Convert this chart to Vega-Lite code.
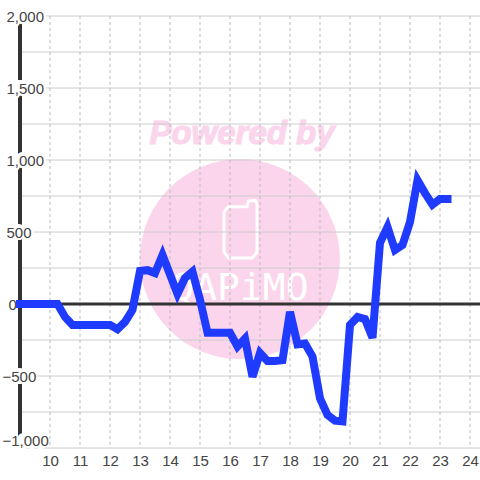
{"$schema":"https://vega.github.io/schema/vega-lite/v6.json","width":460,"height":432,"autosize":{"type":"none"},"padding":{"left":20,"top":16,"right":0,"bottom":32},"background":"#ffffff","config":{"view":{"stroke":null}},
"datasets":{
"line":[{"h":9,"v":0},{"h":10.25,"v":0},{"h":10.5,"v":-90},{"h":10.75,"v":-145},{"h":11,"v":-145},{"h":11.5,"v":-145},{"h":12,"v":-145},{"h":12.25,"v":-175},{"h":12.5,"v":-125},{"h":12.75,"v":-40},{"h":13,"v":230},{"h":13.25,"v":235},{"h":13.5,"v":215},{"h":13.75,"v":340},{"h":14,"v":205},{"h":14.25,"v":70},{"h":14.5,"v":180},{"h":14.75,"v":225},{"h":15,"v":30},{"h":15.25,"v":-200},{"h":15.5,"v":-200},{"h":15.75,"v":-200},{"h":16,"v":-200},{"h":16.25,"v":-295},{"h":16.5,"v":-240},{"h":16.75,"v":-505},{"h":17,"v":-340},{"h":17.25,"v":-395},{"h":17.5,"v":-395},{"h":17.75,"v":-390},{"h":18,"v":-55},{"h":18.25,"v":-280},{"h":18.5,"v":-275},{"h":18.75,"v":-365},{"h":19,"v":-655},{"h":19.25,"v":-770},{"h":19.5,"v":-810},{"h":19.75,"v":-815},{"h":20,"v":-145},{"h":20.25,"v":-90},{"h":20.5,"v":-105},{"h":20.75,"v":-235},{"h":21,"v":425},{"h":21.25,"v":535},{"h":21.5,"v":375},{"h":21.75,"v":410},{"h":22,"v":570},{"h":22.25,"v":860},{"h":22.5,"v":770},{"h":22.75,"v":690},{"h":23,"v":730},{"h":23.25,"v":730}],
"xgrid":[{"h":10},{"h":11},{"h":12},{"h":13},{"h":14},{"h":15},{"h":16},{"h":17},{"h":18},{"h":19},{"h":20},{"h":21},{"h":22},{"h":23},{"h":24}],
"ygrid":[{"v":2000},{"v":1750},{"v":1500},{"v":1250},{"v":1000},{"v":750},{"v":500},{"v":250},{"v":-250},{"v":-500},{"v":-750},{"v":-1000}],
"ylabels":[{"v":2000,"t":"2,000"},{"v":1500,"t":"1,500"},{"v":1000,"t":"1,000"},{"v":500,"t":"500"}],
"logo":[{"i":1,"h":15.8,"v":640},{"i":2,"h":15.95,"v":675},{"i":3,"h":16.57,"v":675},{"i":4,"h":16.62,"v":715},{"i":5,"h":16.85,"v":718},{"i":6,"h":16.9,"v":690},{"i":7,"h":16.9,"v":360},{"i":8,"h":16.75,"v":320},{"i":9,"h":15.95,"v":320},{"i":10,"h":15.8,"v":360},{"i":11,"h":15.8,"v":640}]
},
"encoding":{
"x":{"field":"h","type":"quantitative","scale":{"domain":[9,24.3333],"nice":false,"zero":false},"axis":{"values":[10,11,12,13,14,15,16,17,18,19,20,21,22,23,24],"title":null,"domain":false,"ticks":false,"grid":false,"labelFontSize":15,"labelFont":"Liberation Sans","labelColor":"#444444","labelPadding":5,"labelFlush":false,"labelOverlap":false,"zindex":1}},
"y":{"field":"v","type":"quantitative","scale":{"domain":[-1000,2000],"nice":false,"zero":false},"axis":{"values":[2000,1500,1000,500,0,-500,-1000],"format":",d","title":null,"domain":false,"ticks":false,"grid":false,"labelFontSize":15,"labelFont":"Liberation Sans","labelColor":"#444444","labelAlign":"left","labelBaseline":{"condition":{"test":"datum.value==-1000","value":"bottom"},"value":"middle"},"labelPadding":{"condition":[{"test":"datum.value<0","value":18},{"test":"datum.value==0","value":12}],"value":14},"labelFlush":false,"labelOverlap":false,"zindex":1}}
},
"layer":[
{"data":{"values":[{"h":16.33,"v":312}]},"mark":{"type":"point","filled":true,"shape":"circle","size":40000,"color":"#fbd5ec","opacity":1}},
{"data":{"values":[{"h":16.4,"v":1180,"t":"Powered by"}]},"mark":{"type":"text","text":{"expr":"datum.t"},"font":"Liberation Sans","fontSize":33,"fontWeight":"bold","fontStyle":"italic","color":"#fbd5ec","stroke":"#fbd5ec","strokeWidth":1.2,"align":"center","baseline":"middle"}},
{"data":{"name":"logo"},"mark":{"type":"line","stroke":"#ffffff","strokeWidth":3,"strokeJoin":"round"},"encoding":{"order":{"field":"i","type":"ordinal"}}},
{"data":{"values":[{"h":16.33,"v":104,"t":"QAPiMO"}]},"mark":{"type":"text","text":{"expr":"datum.t"},"font":"DejaVu Sans Mono","fontSize":38,"color":"#ffffff","align":"center","baseline":"middle"}},
{"data":{"name":"ygrid"},"mark":{"type":"rule","stroke":"#cccccc","strokeWidth":1},"encoding":{"x":{"value":0},"x2":{"value":460}}},
{"data":{"name":"xgrid"},"mark":{"type":"rule","stroke":"#bbbbbb","strokeWidth":1,"strokeDash":[3,3]},"encoding":{"y":{"value":0},"y2":{"value":432}}},
{"data":{"values":[{"v":0}]},"mark":{"type":"rule","stroke":"#333333","strokeWidth":3},"encoding":{"x":{"value":0},"x2":{"value":460}}},
{"data":{"values":[{"h":9}]},"mark":{"type":"rule","stroke":"#333333","strokeWidth":4},"encoding":{"y":{"value":0},"y2":{"value":432}}},
{"data":{"name":"ylabels"},"mark":{"type":"text","text":{"expr":"datum.t"},"font":"Liberation Sans","fontSize":15,"align":"left","baseline":"middle","dx":-14,"stroke":"#ffffff","strokeWidth":6,"color":"#ffffff"},"encoding":{"x":{"value":0}}},
{"data":{"values":[{"v":-500,"t":"-500"}]},"mark":{"type":"text","text":{"expr":"datum.t"},"font":"Liberation Sans","fontSize":15,"align":"left","baseline":"middle","dx":-18,"stroke":"#ffffff","strokeWidth":6,"color":"#ffffff"},"encoding":{"x":{"value":0}}},
{"data":{"values":[{"v":-1000,"t":"-1,000"}]},"mark":{"type":"text","text":{"expr":"datum.t"},"font":"Liberation Sans","fontSize":15,"align":"left","baseline":"middle","dx":-18,"dy":-7,"stroke":"#ffffff","strokeWidth":6,"color":"#ffffff"},"encoding":{"x":{"value":0}}},
{"data":{"name":"line"},"mark":{"type":"line","stroke":"#1f3bff","strokeWidth":8,"strokeCap":"square","strokeJoin":"miter","interpolate":"linear","clip":false}}
]}
